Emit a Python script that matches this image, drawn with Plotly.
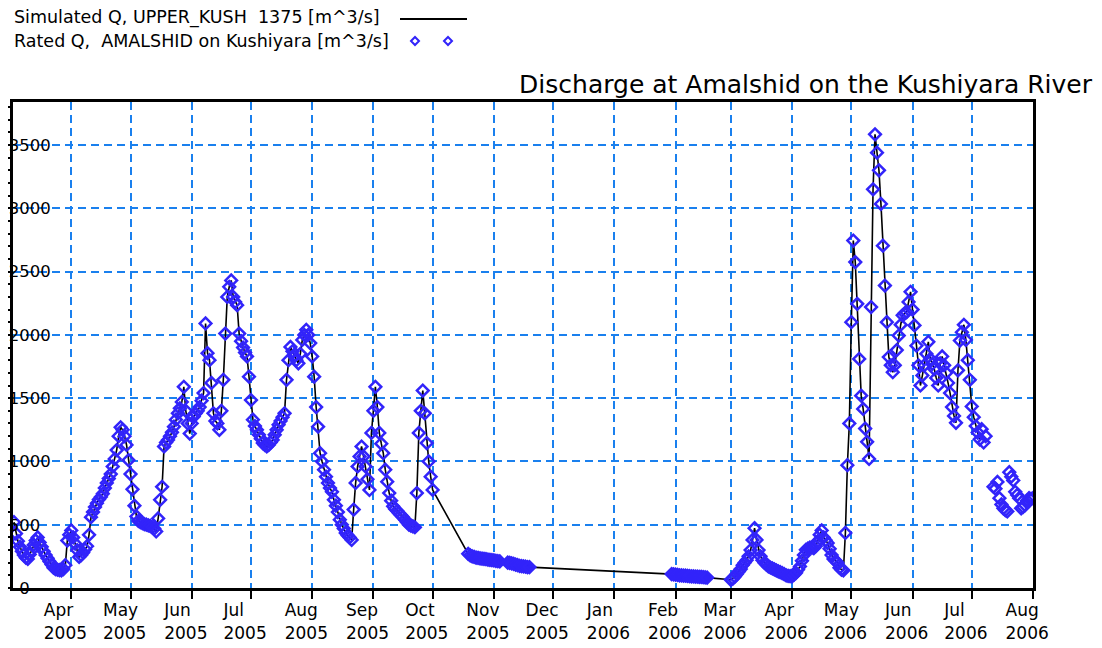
import plotly.graph_objects as go
import pandas as pd

# ---------------- data ----------------
# Rated Q at Amalshid [m^3/s], daily readings; each list starts at the date given with it
q_2005_mar = [520, 430, 370, 325, 290, 260, 240, 230, 265, 300, 340, 375, 400, 360, 325,
              290, 260, 235, 210, 185, 160, 150, 145, 142, 140, 150, 180, 375, 420]          # from 2005-03-03
q_2005_apr = [455, 400, 350, 300, 245, 260, 280, 305, 330, 420, 560, 600, 640, 670, 700,
              720, 745, 790, 830, 865, 900, 960, 1020, 1090, 1200, 1270, 1250, 1200, 1130, 1010]
q_2005_may = [900, 780, 650, 565, 530, 520, 512, 505, 500, 495, 490, 480, 470, 447, 550, 697,
              800, 1118, 1150, 1170, 1200, 1230, 1275, 1330, 1380, 1420, 1470, 1590, 1400, 1300, 1220]
q_2005_jun = [1300, 1355, 1380, 1400, 1430, 1480, 1540, 2090, 1855, 1800, 1620, 1380, 1320, 1300,
              1250, 1400, 1645, 2010, 2300, 2380, 2430, 2300, 2260, 2235, 2010, 1950, 1900, 1860, 1830, 1670]
q_2005_jul = [1485, 1330, 1280, 1250, 1210, 1180, 1145, 1130, 1118, 1130, 1150, 1170, 1210, 1250,
              1290, 1320, 1350, 1380, 1645, 1800, 1905, 1870, 1830, 1800, 1775, 1850, 1960, 2000,
              2040, 2000, 1935]
q_2005_aug = [1830, 1670, 1430, 1275, 1065, 1000, 935, 880, 830, 790, 760, 697, 650, 600, 540,
              500, 470, 435, 415, 400, 380, 620, 830, 960, 1040, 1118, 1040, 960, 860, 775, 1225]
q_2005_sep = [1400, 1590, 1430, 1225, 1140, 1065, 935, 840, 750, 690, 645, 625, 610, 590, 575,
              560, 540, 520, 500, 492, 487, 480, 750, 1225, 1400, 1560, 1380, 1145, 1000, 880]
q_2005_oct = [775]
q_2005_oct_nov = [270, 258, 250, 245, 240, 238, 235, 232, 230, 228, 225, 222, 220, 218, 215,
                  212, 210]                                                                  # from 2005-10-19
q_2005_nov = [200, 198, 195, 190, 185, 180, 175, 172, 170, 168, 165, 165]                 # from 2005-11-08
q_2006_feb = [110, 108, 105, 103, 100, 99, 98, 97, 95, 94, 92, 91, 90, 89, 88, 87, 85, 84, 82]  # from 2006-01-30
q_2006_mar = [65, 75, 90, 110, 130, 150, 180, 200, 220, 250, 300, 380, 473, 380, 300, 250,
              220, 200, 185, 170, 162, 155, 148, 140, 132, 125, 118, 110, 100, 95, 93]
q_2006_apr = [92, 105, 120, 145, 170, 215, 260, 302, 312, 320, 318, 315, 330, 370, 420, 455,
              400, 378, 355, 310, 260, 230, 215, 200, 160, 145, 140, 435, 970, 1300]
q_2006_may = [2100, 2745, 2575, 2245, 1810, 1520, 1415, 1260, 1155, 1020, 2220, 3150, 3585,
              3440, 3300, 3035, 2705, 2390, 2100, 1825, 1760, 1705, 1760, 1880, 1995, 2080,
              2155, 2170, 2180, 2260, 2340]
q_2006_jun = [2200, 2075, 1915, 1760, 1600, 1680, 1760, 1850, 1945, 1810, 1770, 1730, 1660,
              1600, 1775, 1830, 1760, 1700, 1620, 1540, 1430, 1360, 1305, 1720, 1955, 2020,
              2080, 1960, 1800, 1645]
q_2006_jul = [1435, 1350, 1280, 1228, 1175, 1255, 1150, 1200]                             # from 2006-07-01
q_2006_jul_aug = [800, 785, 838, 710, 660, 630, 615, 605, 915, 880, 850, 760, 735, 710, 630,
                  640, 655, 690, 710, 705, 710]                                              # from 2006-07-12

segment_starts = ["2005-03-03", "2005-04-01", "2005-05-01", "2005-06-01", "2005-07-01",
                  "2005-08-01", "2005-09-01", "2005-10-01", "2005-10-19", "2005-11-08",
                  "2006-01-30", "2006-03-01", "2006-04-01", "2006-05-01", "2006-06-01",
                  "2006-07-01", "2006-07-12"]
segment_values = [q_2005_mar, q_2005_apr, q_2005_may, q_2005_jun, q_2005_jul, q_2005_aug,
                  q_2005_sep, q_2005_oct, q_2005_oct_nov, q_2005_nov, q_2006_feb, q_2006_mar,
                  q_2006_apr, q_2006_may, q_2006_jun, q_2006_jul, q_2006_jul_aug]

# Simulated series (UPPER_KUSH 1375) follows the rated series up to this date
sim_end = "2006-07-05"

month_ticks = pd.date_range("2005-04-01", "2006-08-01", freq="MS")
tick_text = [d.strftime("%b") + "<br>" + d.strftime("%Y") for d in month_ticks]
y_ticks = [0, 500, 1000, 1500, 2000, 2500, 3000, 3500]
# figure spaces keep the short labels roughly centred like the original
y_tick_text = ["0\u2007\u2007", "500\u2007", "1000", "1500", "2000", "2500", "3000", "3500"]

label_sim = "Simulated Q, UPPER_KUSH\u00a0\u00a01375 [m^3/s]"
label_rated = "Rated Q,\u00a0\u00a0AMALSHID on Kushiyara [m^3/s]"
title_text = "Discharge at Amalshid on the Kushiyara River"

# ---------------- build ----------------
frames = []
for start, vals in zip(segment_starts, segment_values):
    frames.append(pd.DataFrame({"date": pd.date_range(start, periods=len(vals), freq="D"), "q": vals}))
rated = pd.concat(frames, ignore_index=True)
sim = rated[rated["date"] <= pd.Timestamp(sim_end)]

FONT = "DejaVu Sans"
GRID = "#1a80ee"
MARK = "rgb(50,36,250)"

# the page body adds an 8px offset, so the figure is 8px smaller and
# reference pixel positions are shifted by OFF
OFF = 8
W, H = 1102 - OFF, 648 - OFF
L, R, T, B = 13 - OFF, 1102 - 1033, 102 - OFF, 648 - 588
PW, PH = W - L - R, H - T - B


def px(x):
    return (x - OFF - L) / PW


def py(y):
    return (H - B - (y - OFF)) / PH


fig = go.Figure()
fig.add_trace(go.Scatter(
    x=sim["date"], y=sim["q"], mode="lines", name=label_sim,
    line=dict(color="black", width=1.6), showlegend=False,
))
fig.add_trace(go.Scatter(
    x=rated["date"], y=rated["q"], mode="markers", name=label_rated,
    marker=dict(symbol="diamond-open", size=9, color=MARK, line=dict(width=2.5, color=MARK)),
    showlegend=False,
))

fig.update_layout(
    template="none",
    width=W, height=H,
    margin=dict(l=L, r=R, t=T, b=B),
    paper_bgcolor="white", plot_bgcolor="white",
    font=dict(family=FONT, size=17, color="black"),
    title=dict(text=title_text, xref="container", x=(1092 - OFF) / W, xanchor="right",
               y=1 - (84 - OFF) / H, yanchor="middle", font=dict(family=FONT, size=25, color="black")),
    xaxis=dict(
        type="date", range=["2005-03-02 12:00", "2006-08-01"],
        tickvals=month_ticks, ticktext=tick_text,
        ticks="outside", ticklen=8, tickwidth=2, tickcolor="black",
        ticklabelposition="outside right", ticklabelshift=-30, ticklabelstandoff=5,
        showline=True, linewidth=3, linecolor="black", mirror=True,
        showgrid=True, gridcolor=GRID, gridwidth=2, griddash="8px,5px",
        zeroline=False, automargin=False,
        tickfont=dict(family=FONT, size=17),
    ),
    yaxis=dict(
        range=[0, 3840], tickvals=y_ticks, ticktext=y_tick_text,
        ticks="outside", ticklen=10, tickwidth=2, tickcolor="black",
        minor=dict(dtick=100, ticks="outside", ticklen=10, tickwidth=2, tickcolor="black", showgrid=False),
        showline=True, linewidth=3, linecolor="black", mirror=True,
        showgrid=True, gridcolor=GRID, gridwidth=2, griddash="8px,5px",
        zeroline=False, automargin=False, ticklabelstandoff=-54,
        tickfont=dict(family=FONT, size=16.5),
    ),
)

# legend drawn as header text with sample symbols (as in the original)
fig.add_annotation(text=label_sim, xref="paper", yref="paper", x=px(12), y=py(18),
                   xanchor="left", yanchor="middle", showarrow=False, font=dict(family=FONT, size=17.5))
fig.add_annotation(text=label_rated, xref="paper", yref="paper", x=px(12), y=py(41),
                   xanchor="left", yanchor="middle", showarrow=False, font=dict(family=FONT, size=17.5))
fig.add_shape(type="line", xref="paper", yref="paper", x0=px(400), x1=px(467), y0=py(19), y1=py(19),
              line=dict(color="black", width=2))
for cx in (415, 448):
    cy = 41
    r = 4
    path = (f"M{px(cx - r)},{py(cy)} L{px(cx)},{py(cy - r)} L{px(cx + r)},{py(cy)} "
            f"L{px(cx)},{py(cy + r)} Z")
    fig.add_shape(type="path", xref="paper", yref="paper", path=path,
                  line=dict(color=MARK, width=2))

fig.write_html("out.html")
